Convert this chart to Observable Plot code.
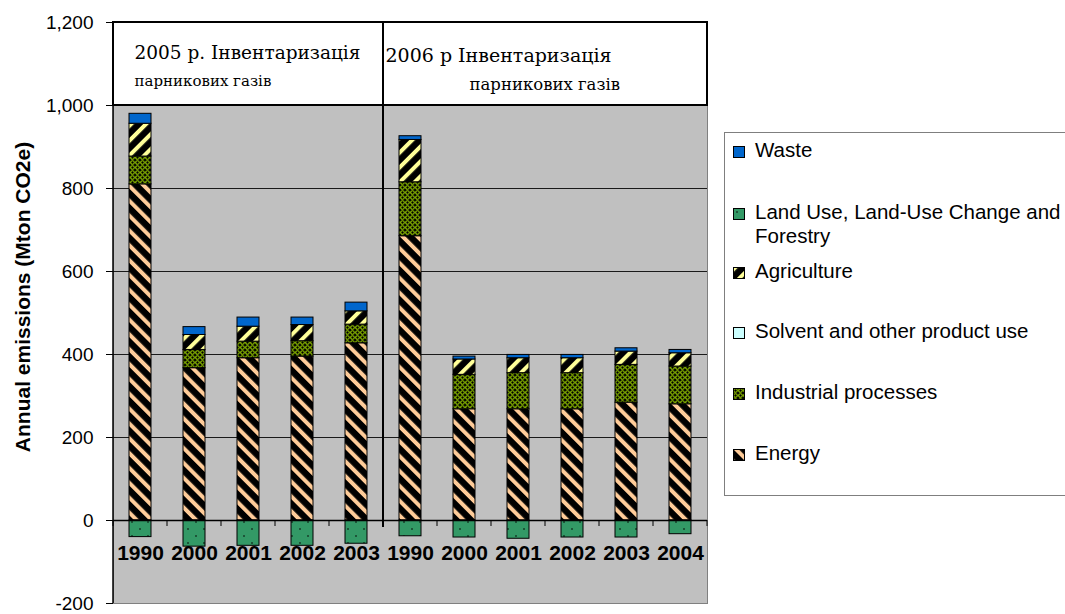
<!DOCTYPE html>
<html><head><meta charset="utf-8">
<script src="https://cdn.jsdelivr.net/npm/d3@7"></script>
<script src="https://cdn.jsdelivr.net/npm/@observablehq/plot@0.6"></script>
<style>
html,body{margin:0;padding:0;background:#fff;overflow:hidden;}
#wrap{position:relative;width:1065px;height:614px;font-family:"Liberation Sans",Arial,sans-serif;}
#legend{position:absolute;left:724px;top:132px;width:380px;height:364px;border:1px solid #7f7f7f;box-sizing:border-box;background:#fff;}
.item{position:absolute;left:0;width:340px;font-size:20.5px;line-height:24px;color:#000;}
.item svg{position:absolute;left:8px;top:8px;}
.item span{display:block;margin-left:30px;width:312px;}
</style></head>
<body>
<svg width="0" height="0" style="position:absolute">
<defs>
<pattern id="p-energy" patternUnits="userSpaceOnUse" width="10.5" height="10.5" patternTransform="rotate(-45)">
<rect width="10.5" height="10.5" fill="#000"/><rect width="4" height="10.5" fill="#FFCC99"/>
</pattern>
<pattern id="p-agri" patternUnits="userSpaceOnUse" width="10.5" height="10.5" patternTransform="rotate(45)">
<rect width="10.5" height="10.5" fill="#000"/><rect width="4" height="10.5" fill="#FFFF99"/>
</pattern>
<pattern id="p-ind" patternUnits="userSpaceOnUse" width="5" height="5">
<rect width="5" height="5" fill="#000"/><circle cx="2.5" cy="2.5" r="1.8" fill="none" stroke="#99CC00" stroke-width="1.1"/>
</pattern>
<pattern id="p-lulucf" patternUnits="userSpaceOnUse" width="16" height="14">
<rect width="16" height="14" fill="#339966"/><circle cx="4" cy="4" r="0.8" fill="#000"/><circle cx="12" cy="11" r="0.8" fill="#000"/>
</pattern>
</defs></svg>
<div id="wrap"></div>
<script>
// ---- data ----
const legendOrder = ["Waste", "Land Use, Land-Use Change and Forestry", "Agriculture", "Solvent and other product use", "Industrial processes", "Energy"];
const stackOrder = ["Energy", "Industrial processes", "Solvent and other product use", "Agriculture", "Land Use, Land-Use Change and Forestry", "Waste"];
const inventories = ["2005 р. Інвентаризація", "2006 р Інвентаризація"];
const inventorySub = "парникових газів";
const yTitle = "Annual emissions (Mton CO2e)";
const years2005 = ["1990", "2000", "2001", "2002", "2003"];
const years2006 = ["1990", "2000", "2001", "2002", "2003", "2004"];
const energy2005 = [810, 367, 391, 395, 427];
const industrial2005 = [67, 44, 40, 37, 45];
const solvent2005 = [0, 0, 0, 0, 0];
const agriculture2005 = [79, 36, 36, 39, 32];
const lulucf2005 = [-40, -63, -61, -61, -56];
const waste2005 = [24, 19, 22, 18, 21];
const energy2006 = [685, 268, 268, 268, 284, 280];
const industrial2006 = [130, 83, 87, 87, 91, 91];
const solvent2006 = [0, 0, 0, 0, 0, 0];
const agriculture2006 = [102, 37, 36, 36, 32, 32];
const lulucf2006 = [-38, -41, -44, -41, -41, -33];
const waste2006 = [9, 7, 8, 8, 8, 8];
const yTicks = [-200, 0, 200, 400, 600, 800, 1000, 1200];

const fills = {
  "Energy": "url(#p-energy)",
  "Industrial processes": "url(#p-ind)",
  "Solvent and other product use": "#CCFFFF",
  "Agriculture": "url(#p-agri)",
  "Land Use, Land-Use Change and Forestry": "url(#p-lulucf)",
  "Waste": "#0066CC"
};

// ---- build table ----
const keys2005 = years2005.map(y => "2005|" + y);
const keys2006 = years2006.map(y => "2006|" + y);
const allKeys = [...keys2005, ...keys2006];
const categories = [
  ...years2005.map((y, i) => ({key: keys2005[i], year: y})),
  ...years2006.map((y, i) => ({key: keys2006[i], year: y}))
];
const seriesData = {
  "Energy": [energy2005, energy2006],
  "Industrial processes": [industrial2005, industrial2006],
  "Solvent and other product use": [solvent2005, solvent2006],
  "Agriculture": [agriculture2005, agriculture2006],
  "Land Use, Land-Use Change and Forestry": [lulucf2005, lulucf2006],
  "Waste": [waste2005, waste2006]
};
const rows = [];
for (const s of stackOrder) {
  const [a, b] = seriesData[s];
  a.forEach((v, i) => rows.push({key: keys2005[i], series: s, value: v}));
  b.forEach((v, i) => rows.push({key: keys2006[i], series: s, value: v}));
}

// band edges helper
const edges = (x) => {
  const step = x.step(), bw = x.bandwidth();
  return {L: k => x(k) + bw / 2 - step / 2, R: k => x(k) + bw / 2 + step / 2};
};

const boxes = (index, {x, y}) => {
  const {L, R} = edges(x);
  const g = d3.create("svg:g");
  for (const ks of [keys2005, keys2006]) {
    g.append("rect")
      .attr("x", L(ks[0])).attr("y", y(1200))
      .attr("width", R(ks[ks.length - 1]) - L(ks[0]))
      .attr("height", y(1000) - y(1200))
      .attr("fill", "#fff").attr("stroke", "#000").attr("stroke-width", 2);
  }
  return g.node();
};

const lines = (index, {x, y}) => {
  const {L, R} = edges(x);
  const g = d3.create("svg:g").attr("stroke", "#000");
  const bounds = [...allKeys.map(L), R(allKeys[allKeys.length - 1])];
  for (const b of bounds) g.append("line").attr("x1", b).attr("x2", b).attr("y1", y(0)).attr("y2", y(0) + 6);
  const dv = L(keys2006[0]);
  g.append("line").attr("x1", dv).attr("x2", dv).attr("y1", y(1200)).attr("y2", y(0) + 7).attr("stroke-width", 2);
  const lx = L(allKeys[0]);
  g.append("line").attr("x1", lx).attr("x2", lx).attr("y1", y(1200)).attr("y2", y(-200)).attr("stroke-width", 1.5);
  return g.node();
};

const serif = "DejaVu Serif, serif";
const plot = Plot.plot({
  width: 1065, height: 614,
  marginLeft: 113, marginRight: 358, marginTop: 22, marginBottom: 11,
  style: {fontFamily: "Liberation Sans, Arial, sans-serif", color: "#000", background: "transparent", overflow: "visible"},
  x: {domain: allKeys, paddingInner: 0.6, paddingOuter: 0.3, axis: null},
  y: {domain: [-200, 1200], label: null},
  color: {type: "identity"},
  marks: [
    Plot.frame({fill: "#c0c0c0", stroke: "#808080"}),
    Plot.ruleY([200, 400, 600, 800], {stroke: "#1a1a1a"}),
    boxes,
    Plot.barY(rows, Plot.stackY({x: "key", y: "value", z: "series", order: stackOrder, fill: d => fills[d.series], stroke: "#000", strokeWidth: 1})),
    Plot.ruleY([0], {stroke: "#000", strokeWidth: 1.5}),
    lines,
    Plot.axisY({ticks: yTicks, tickFormat: () => "", tickSize: 7, label: null}),
    Plot.text(yTicks, {y: d => d, frameAnchor: "left", dx: -20, textAnchor: "end", text: d => d.toLocaleString("en-US"), fontSize: 19}),
    Plot.text(categories, {x: "key", y: 0, dy: 33, text: "year", fontWeight: "bold", fontSize: 21}),
    Plot.text([inventories[0]], {x: () => keys2005[0], frameAnchor: "top", dx: -6, dy: 36, lineAnchor: "bottom", textAnchor: "start", fontFamily: serif, fontSize: 18.5}),
    Plot.text([inventorySub], {x: () => keys2005[0], frameAnchor: "top", dx: -6, dy: 63, lineAnchor: "bottom", textAnchor: "start", fontFamily: serif, fontSize: 15}),
    Plot.text([inventories[1]], {x: () => keys2006[0], frameAnchor: "top", dx: -25, dy: 39, lineAnchor: "bottom", textAnchor: "start", fontFamily: serif, fontSize: 19}),
    Plot.text([inventorySub], {x: () => keys2006[1], frameAnchor: "top", dx: 5, dy: 67, lineAnchor: "bottom", textAnchor: "start", fontFamily: serif, fontSize: 16.5}),
    Plot.text([yTitle], {frameAnchor: "left", dx: -90, dy: -16, rotate: -90, textAnchor: "middle", fontWeight: "bold", fontSize: 21})
  ]
});
plot.style.position = "absolute";
plot.style.left = "0"; plot.style.top = "0";
const wrap = document.getElementById("wrap");
wrap.appendChild(plot);

// ---- legend ----
const legend = document.createElement("div");
legend.id = "legend";
const tops = [5, 67, 126, 186, 247, 308];
legendOrder.forEach((s, i) => {
  const it = document.createElement("div");
  it.className = "item";
  it.style.top = tops[i] + "px";
  it.innerHTML = `<svg width="12" height="12"><rect x="0.5" y="0.5" width="11" height="11" fill="${fills[s]}" stroke="#000" stroke-width="1"/></svg><span></span>`;
  it.querySelector("span").textContent = s;
  legend.appendChild(it);
});
wrap.appendChild(legend);
</script>
</body></html>
